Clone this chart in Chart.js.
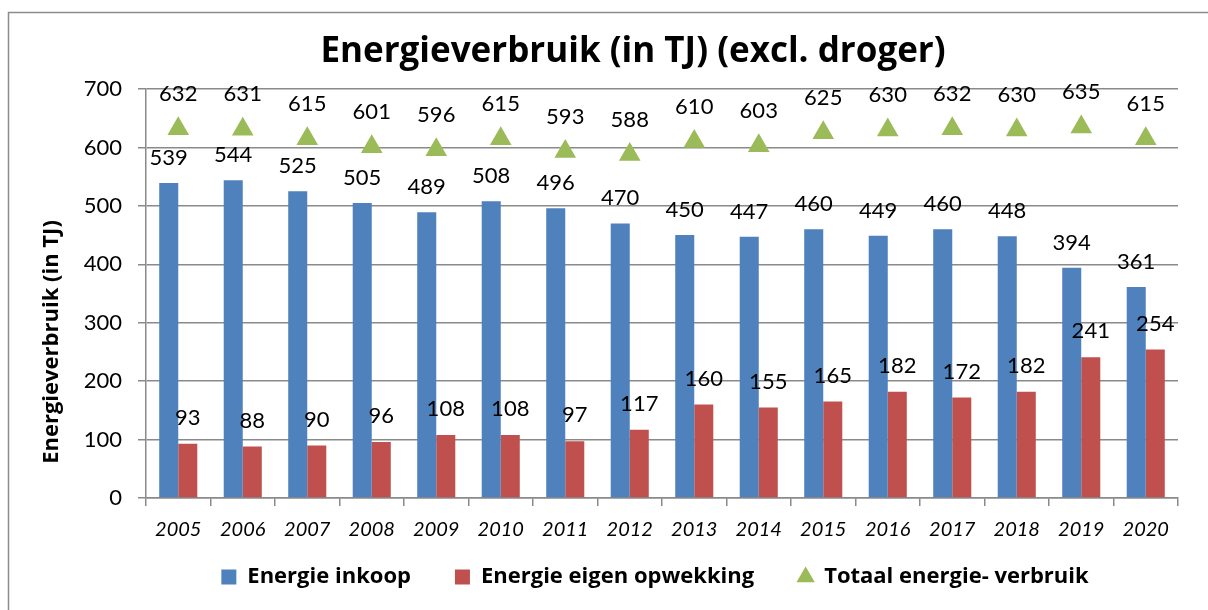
<!DOCTYPE html>
<html>
<head>
<meta charset="utf-8">
<script src="https://cdn.jsdelivr.net/npm/chart.js@4.4.1/dist/chart.umd.min.js"></script>
<style>
  html, body { margin: 0; padding: 0; background: #fff; }
  #wrap { width: 1208px; height: 610px; position: relative; }
</style>
</head>
<body>
<div id="wrap"><canvas id="chart" width="1208" height="610"></canvas></div>
<script>
// data
var jaren = ['2005','2006','2007','2008','2009','2010','2011','2012','2013','2014','2015','2016','2017','2018','2019','2020'];
var inkoop = [539,544,525,505,489,508,496,470,450,447,460,449,460,448,394,361];
var eigenOpwekking = [93,88,90,96,108,108,97,117,160,155,165,182,172,182,241,254];
var totaal = [632,631,615,601,596,615,593,588,610,603,625,630,632,630,635,615];
var yTicks = [0,100,200,300,400,500,600,700];

var NUMFONT = 'Lato, "Liberation Sans", sans-serif';
var TXTFONT = '"Open Sans", "Liberation Sans", sans-serif';
var GRID = '#8a8a8a';

// labels above bars / markers, plus title, axis title and frame
var extras = {
  id: 'extras',
  afterLayout: function(chart){
    // legend in the original sits right of centre and a bit higher
    var lg = chart.legend;
    lg.left += 51;
    lg.right += 51;
    lg.top -= 24;
    lg.bottom -= 24;
  },
  beforeDraw: function(chart){
    var c = chart.ctx;
    c.save();
    c.strokeStyle = '#8c8c8c';
    c.lineWidth = 1.5;
    c.strokeRect(8.5, 12.5, 1220, 620);
    c.restore();
  },
  afterDatasetsDraw: function(chart){
    var c = chart.ctx;
    var offsets = [25, 26, 35];
    c.save();
    c.font = '22px ' + NUMFONT;
    c.fillStyle = '#000';
    c.textAlign = 'center';
    c.textBaseline = 'middle';
    chart.data.datasets.forEach(function(ds, i){
      chart.getDatasetMeta(i).data.forEach(function(el, j){
        c.fillText(ds.data[j], el.x, el.y - offsets[i]);
      });
    });
    c.font = 'bold 35px ' + TXTFONT;
    c.fillText('Energieverbruik (in TJ) (excl. droger)', 633, 52);
    c.translate(52, 342);
    c.rotate(-Math.PI / 2);
    c.font = 'bold 22px ' + TXTFONT;
    c.fillText('Energieverbruik (in TJ)', 0, 0);
    c.restore();
  }
};

var ctx = document.getElementById('chart').getContext('2d');
var chart = new Chart(ctx, {
  type: 'bar',
  data: {
    labels: jaren,
    datasets: [
      {
        label: 'Energie inkoop',
        data: inkoop,
        backgroundColor: '#4f81bd',
        pointStyle: 'rect',
        order: 2
      },
      {
        label: 'Energie eigen opwekking',
        data: eigenOpwekking,
        backgroundColor: '#c0504d',
        pointStyle: 'rect',
        order: 2
      },
      {
        type: 'line',
        label: 'Totaal energie- verbruik',
        data: totaal,
        showLine: false,
        pointStyle: 'triangle',
        pointRadius: 12.5,
        pointHoverRadius: 12.5,
        backgroundColor: '#9bbb59',
        borderColor: '#9bbb59',
        borderWidth: 0,
        order: 1
      }
    ]
  },
  options: {
    responsive: false,
    animation: false,
    devicePixelRatio: 1,
    layout: { padding: { left: 30, right: 30, top: 89, bottom: -12 } },
    datasets: { bar: { categoryPercentage: 0.59, barPercentage: 1 } },
    plugins: {
      title: { display: false },
      tooltip: { enabled: false },
      legend: {
        position: 'bottom',
        labels: {
          usePointStyle: true,
          boxWidth: 15,
          boxHeight: 15,
          padding: 44,
          color: '#000',
          sort: function(a, b){ return a.datasetIndex - b.datasetIndex; },
          font: { family: TXTFONT, size: 22, weight: 'bold' }
        }
      }
    },
    scales: {
      x: {
        grid: { display: true, drawOnChartArea: false, offset: true, color: GRID, lineWidth: 1.5, tickLength: 8 },
        border: { color: GRID, width: 1.5 },
        ticks: { color: '#000', padding: 12, font: { family: NUMFONT, size: 20, style: 'italic' } },
        afterFit: function(s){ s.height = 48; }
      },
      y: {
        min: 0,
        max: 700,
        afterBuildTicks: function(s){ s.ticks = yTicks.map(function(v){ return { value: v }; }); },
        grid: { color: GRID, lineWidth: 1.5, tickLength: 8 },
        border: { color: GRID, width: 1.5 },
        ticks: { color: '#000', padding: 16, font: { family: NUMFONT, size: 22 } },
        afterFit: function(s){ s.width = 116; }
      }
    }
  },
  plugins: [extras]
});
</script>
</body>
</html>
